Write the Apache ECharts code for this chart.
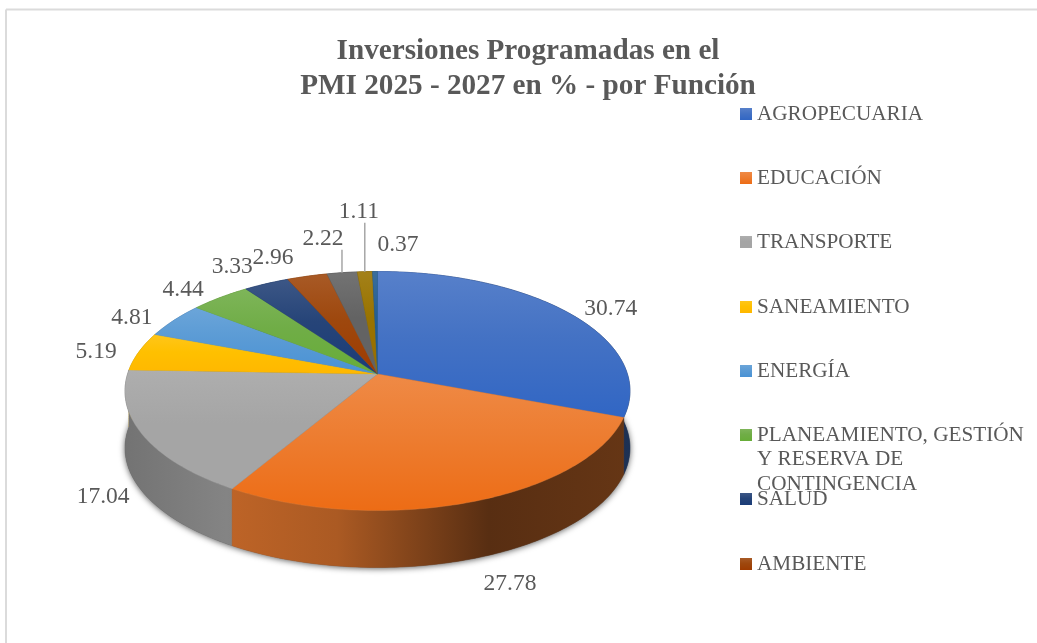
<!DOCTYPE html>
<html>
<head>
<meta charset="utf-8">
<style>html,body{margin:0;padding:0;background:#fff}#c{width:1037px;height:643px}</style>
<script src="https://cdn.jsdelivr.net/npm/echarts@6/dist/echarts.min.js"></script>
</head>
<body>
<div id="c"></div>
<script>
// Data
const titleText = 'Inversiones Programadas en el\nPMI 2025 - 2027 en % - por Función';
const categories = ['AGROPECUARIA','EDUCACIÓN','TRANSPORTE','SANEAMIENTO','ENERGÍA',
  'PLANEAMIENTO, GESTIÓN\nY RESERVA DE\nCONTINGENCIA','SALUD','AMBIENTE'];
const values = [30.74,27.78,17.04,5.19,4.81,4.44,3.33,2.96,2.22,1.11,0.37];
const valueLabels = ['30.74','27.78','17.04','5.19','4.81','4.44','3.33','2.96','2.22','1.11','0.37'];

// Styles and layout
const colors = ['#4472C4','#ED7D31','#A5A5A5','#FFC000','#5B9BD5','#70AD47','#264478','#9E480E','#636363','#997300','#255E91'];
const labelOffsets = [[43,-4],[37,82],[-39,63],[-43,0],[-42,-2],[-37,-8],[-34,-17],[-34,-18],[-19,-34],[-6,-60],[23,-27]];
const leaderSlices = [8,9];
const legendTops = [114,178,242,307,371,435,499,564];
const PIE = {cx:377.5, cy:391, rx:252.5, ry:119.5, depth:57, tilt:-0.142};
const TEXT = '#595959', SERIF = '"Liberation Serif","Times New Roman",serif';

const total = values.reduce((a,b)=>a+b,0);
const starts = values.map((_,i)=>values.slice(0,i).reduce((a,b)=>a+b,0));
function project(theta){
  const u=Math.sin(theta), v=-Math.cos(theta), a=PIE.tilt, d=1+a*v;
  return [PIE.cx+PIE.rx*u*Math.sqrt(1-a*a)/d, PIE.cy+PIE.ry*(v+a)/d];
}
const centre=[PIE.cx, PIE.cy+PIE.ry*PIE.tilt];
function arc(v0,dv){
  const t0=v0/total*2*Math.PI, t1=(v0+dv)/total*2*Math.PI, n=Math.max(2,Math.ceil((t1-t0)*60)), p=[];
  for(let k=0;k<=n;k++) p.push(project(t0+(t1-t0)*k/n));
  return p;
}
function channels(hex){const n=parseInt(hex.slice(1),16);return [n>>16&255,n>>8&255,n&255];}
const rgb=ch=>'rgb('+ch.map(c=>Math.max(0,Math.min(255,Math.round(c)))).join(',')+')';
// factor < 1 darkens towards black, factor > 1 lightens towards white
function shade(hex,f){return rgb(channels(hex).map(c=>f<=1?c*f:c+(255-c)*(f-1)));}
// keeps the brightest channel and pushes the others away from it
function saturate(hex,f){const ch=channels(hex),m=Math.max(...ch);return rgb(ch.map(c=>m-(m-c)*f));}
function wallPaint(c){
  const L=PIE.cx-PIE.rx, R=PIE.cx+PIE.rx;
  const s=[[0,.70],[.2,.80],[.42,.72],[.72,.37],[1,.43]];
  return new echarts.graphic.LinearGradient(L,0,R,0,s.map(([o,f])=>({offset:o,color:shade(c,f)})),true);
}
function topPaint(c){
  return new echarts.graphic.LinearGradient(0,0,0,1,[{offset:0,color:shade(c,1.1)},{offset:.45,color:c},{offset:1,color:saturate(c,1.15)}]);
}
function renderWalls(params,api){
  const i=params.dataIndex, v0=api.value(0), dv=api.value(1);
  const top=arc(v0,dv), bot=top.map(p=>[p[0],p[1]+PIE.depth]).reverse();
  const kids=[];
  if(i===0){
    const ring=arc(0,total).map(p=>[p[0],p[1]+PIE.depth]);
    kids.push({type:'polygon',z2:-1,shape:{points:ring},style:{fill:'#555',shadowBlur:6,shadowColor:'rgba(0,0,0,.65)',shadowOffsetY:1}});
  }
  const paint=wallPaint(colors[i]);
  // walls further back are painted first
  const depthOrder=Math.round(top[Math.floor(top.length/2)][1]);
  kids.push({type:'polygon',z2:depthOrder,shape:{points:top.concat(bot)},style:{fill:paint,stroke:paint,lineWidth:.5}});
  return {type:'group',children:kids};
}
function renderSlice(i){
  return function(params,api){
    const v0=api.value(0), dv=api.value(1);
    const pts=arc(v0,dv), mid=project((v0+dv/2)/total*2*Math.PI), off=labelOffsets[i];
    const kids=[{type:'polygon',z2:1000,shape:{points:[centre].concat(pts)},
      style:{fill:topPaint(colors[i]),stroke:colors[i],lineWidth:.4}}];
    if(leaderSlices.includes(i)){
      kids.push({type:'line',z2:1001,shape:{x1:mid[0],y1:mid[1],x2:mid[0],y2:mid[1]+off[1]+11},style:{stroke:'#A6A6A6',lineWidth:1.5}});
    }
    kids.push({type:'text',z2:1002,style:{x:mid[0]+off[0],y:mid[1]+off[1],text:valueLabels[i],
      fill:TEXT,font:'23.5px '+SERIF,align:'center',verticalAlign:'middle'}});
    return {type:'group',children:kids};
  };
}
const sliceName=i=>categories[i]||('sin leyenda '+(i-categories.length+1));
const series=[{type:'custom',name:'paredes',coordinateSystem:'none',silent:true,
  data:values.map((v,i)=>[starts[i],v]),renderItem:renderWalls,animation:false}]
 .concat(values.map((v,i)=>({type:'custom',name:sliceName(i),coordinateSystem:'none',silent:true,animation:false,
  itemStyle:{color:colors[i]},data:[[starts[i],v]],renderItem:renderSlice(i)})));

const legendOption=categories.map((n,i)=>{
  const lines=n.split('\n').length;
  const rows=lines>1?2*lines-1:1;
  return {
    show:true,data:[n],left:740,top:legendTops[i]-rows*24.5/2,orient:'vertical',padding:0,
    itemWidth:12,itemHeight:12,selectedMode:false,icon:'rect',
    itemStyle:{color:topPaint(colors[i])},
    textStyle:{color:TEXT,fontFamily:SERIF,fontSize:21.2,lineHeight:24.5},
    formatter:name=>name.includes('\n')?'\n\n'+name:name
  };
});

const chart=echarts.init(document.getElementById('c'),null,{renderer:'canvas'});
chart.setOption({
  backgroundColor:'#fff',animation:false,
  title:{text:titleText,left:523,top:29,textAlign:'center',
    textStyle:{color:TEXT,fontFamily:SERIF,fontSize:29.2,fontWeight:'bold',lineHeight:35}},
  legend:legendOption,
  tooltip:{show:false},
  graphic:[
    {type:'line',shape:{x1:6,y1:9.5,x2:1037,y2:9.5},style:{stroke:'#DBDBDB',lineWidth:2},silent:true},
    {type:'line',shape:{x1:6,y1:9.5,x2:6,y2:643},style:{stroke:'#DBDBDB',lineWidth:2},silent:true}
  ],
  series
});
</script>
</body>
</html>
